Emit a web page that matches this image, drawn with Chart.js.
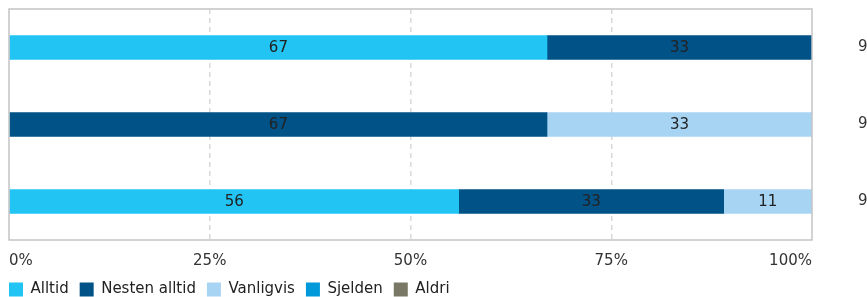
<!DOCTYPE html>
<html>
<head>
<meta charset="utf-8">
<script src="https://cdn.jsdelivr.net/npm/chart.js@4/dist/chart.umd.min.js"></script>
<style>
    html, body { margin: 0; padding: 0; background: #fff; }
    #wrap { width: 867px; height: 297px; }
</style>
</head>
<body>
<div id="wrap"><canvas id="chart"></canvas></div>
<script>
// --- DATA ---
const rowCounts = ['9', '9', '9'];
const seriesNames = ['Alltid', 'Nesten alltid', 'Vanligvis', 'Sjelden', 'Aldri'];
const alltid = [67, 0, 56];
const nestenAlltid = [33, 67, 33];
const vanligvis = [0, 33, 11];
const sjelden = [0, 0, 0];
const aldri = [0, 0, 0];
const xTicks = ['0%', '25%', '50%', '75%', '100%'];

const COLORS = ['#21C4F3', '#005287', '#A8D4F4', '#0099DA', '#797866'];
const FONT = '"DejaVu Sans", Verdana, sans-serif';

// numbers inside the bars
const barLabels = {
    id: 'barLabels',
    afterDatasetsDraw(chart) {
        const ctx = chart.ctx;
        ctx.save();
        ctx.font = '15px ' + FONT;
        ctx.fillStyle = '#222';
        ctx.textAlign = 'center';
        ctx.textBaseline = 'middle';
        chart.data.datasets.forEach((ds, i) => {
            const meta = chart.getDatasetMeta(i);
            meta.data.forEach((bar, j) => {
                const v = ds.data[j];
                if (!v) return;
                ctx.fillText(String(v), (bar.x + bar.base) / 2, bar.y + 1);
            });
        });
        ctx.restore();
    }
};

// grey frame round the plot area
const plotFrame = {
    id: 'plotFrame',
    afterDraw(chart) {
        const a = chart.chartArea;
        const ctx = chart.ctx;
        ctx.save();
        ctx.strokeStyle = '#c4c4c4';
        ctx.lineWidth = 1.5;
        ctx.strokeRect(a.left, a.top, a.right - a.left, a.bottom - a.top);
        ctx.restore();
    }
};

// tighter legend: less height, nudged left to line up with the plot
const legendTweak = {
    id: 'legendTweak',
    afterInit(chart) {
        const lg = chart.legend;
        if (!lg) return;
        const origFit = lg.fit.bind(lg);
        lg.fit = function () {
            origFit();
            this.height = 15;
        };
    },
    afterLayout(chart) {
        const lg = chart.legend;
        if (!lg) return;
        lg.left -= 11;
        lg.top -= 11;
    }
};

const seriesData = [alltid, nestenAlltid, vanligvis, sjelden, aldri];

new Chart(document.getElementById('chart'), {
    type: 'bar',
    data: {
        labels: rowCounts,
        datasets: seriesNames.map((name, i) => ({
            label: name,
            data: seriesData[i],
            backgroundColor: COLORS[i],
            borderWidth: 0,
            barThickness: 24
        }))
    },
    options: {
        indexAxis: 'y',
        responsive: true,
        maintainAspectRatio: false,
        animation: false,
        layout: { padding: { left: 9, top: 9, right: 0, bottom: 0 } },
        scales: {
            x: {
                stacked: true,
                min: 0,
                max: 100,
                grid: {
                    color: c => (c.tick.value === 0 || c.tick.value === 100) ? 'rgba(0,0,0,0)' : '#d9d9d9',
                    lineWidth: 1.5,
                    drawTicks: false
                },
                border: { display: false, dash: [5, 4] },
                ticks: {
                    stepSize: 25,
                    align: 'inner',
                    padding: 12,
                    color: '#333',
                    font: { family: FONT, size: 15 },
                    callback: (v) => xTicks[v / 25]
                },
                afterFit: (axis) => {
                    axis.paddingLeft = 0;
                    axis.paddingRight = 0;
                }
            },
            y: {
                stacked: true,
                position: 'right',
                grid: { display: false, drawTicks: false },
                border: { display: false },
                ticks: {
                    padding: 46,
                    color: '#333',
                    font: { family: FONT, size: 15 }
                },
                afterFit: (axis) => {
                    axis.width = 55;
                    axis.paddingTop = 0;
                    axis.paddingBottom = 0;
                }
            }
        },
        plugins: {
            legend: {
                position: 'bottom',
                align: 'start',
                labels: {
                    boxWidth: 14,
                    boxHeight: 14,
                    padding: 11,
                    color: '#222',
                    font: { family: FONT, size: 15 }
                }
            },
            tooltip: { enabled: false }
        }
    },
    plugins: [barLabels, plotFrame, legendTweak]
});
</script>
</body>
</html>
